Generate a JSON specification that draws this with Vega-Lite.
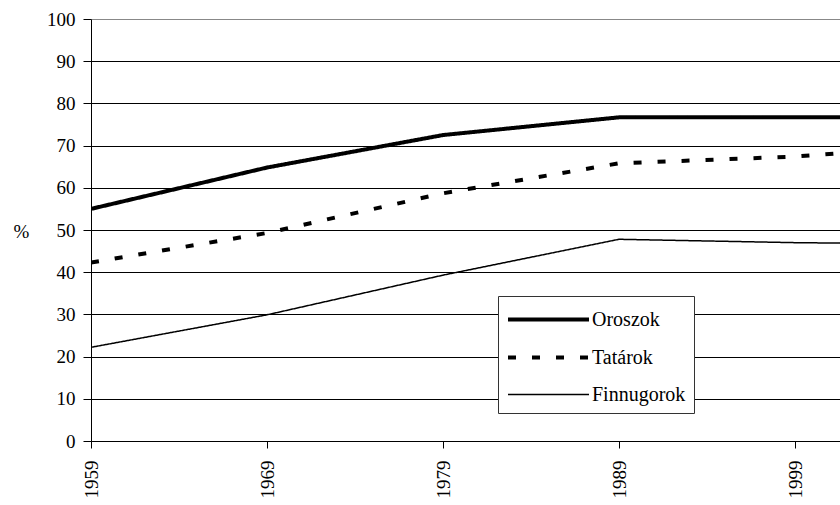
{
  "$schema": "https://vega.github.io/schema/vega-lite/v6.json",
  "width": 749,
  "height": 422,
  "autosize": {"type": "none"},
  "padding": {"left": 91, "top": 19, "right": 0, "bottom": 64},
  "background": "white",
  "config": {
    "view": {"stroke": null},
    "font": "Liberation Serif, Times New Roman, serif",
    "legend": {
      "symbolType": "M-1,0H5",
      "symbolSize": 729,
      "labelOffset": 55,
      "padding": 8,
      "rowPadding": 12,
      "fillColor": "white",
      "strokeColor": "#333",
      "labelFont": "Liberation Serif, Times New Roman, serif",
      "labelFontSize": 20,
      "labelColor": "black",
      "symbolStrokeColor": "black"
    }
  },
  "data": {
    "values": [
      {"series": "Oroszok", "year": 1959, "value": 55.0},
      {"series": "Oroszok", "year": 1969, "value": 64.8},
      {"series": "Oroszok", "year": 1979, "value": 72.5},
      {"series": "Oroszok", "year": 1989, "value": 76.7},
      {"series": "Oroszok", "year": 1999, "value": 76.7},
      {"series": "Oroszok", "year": 2009, "value": 76.7},
      {"series": "Tatárok", "year": 1959, "value": 42.3},
      {"series": "Tatárok", "year": 1969, "value": 49.3},
      {"series": "Tatárok", "year": 1979, "value": 58.7},
      {"series": "Tatárok", "year": 1989, "value": 65.8},
      {"series": "Tatárok", "year": 1999, "value": 67.4},
      {"series": "Tatárok", "year": 2009, "value": 70.5},
      {"series": "Finnugorok", "year": 1959, "value": 22.2},
      {"series": "Finnugorok", "year": 1969, "value": 29.9},
      {"series": "Finnugorok", "year": 1979, "value": 39.3},
      {"series": "Finnugorok", "year": 1989, "value": 47.8},
      {"series": "Finnugorok", "year": 1999, "value": 47.0},
      {"series": "Finnugorok", "year": 2009, "value": 46.6}
    ]
  },
  "mark": {"type": "line", "clip": true, "color": "black"},
  "encoding": {
    "x": {
      "field": "year",
      "type": "quantitative",
      "scale": {"domain": [1959, 2001.5568], "nice": false, "zero": false},
      "axis": {
        "values": [1959, 1969, 1979, 1989, 1999],
        "format": "d",
        "grid": false,
        "title": null,
        "labelAngle": -90,
        "labelAlign": "right",
        "labelBaseline": "middle",
        "labelPadding": 12,
        "tickSize": 7,
        "tickColor": "black",
        "domainColor": "black",
        "labelFontSize": 19,
        "labelColor": "black",
        "labelFont": "Liberation Serif, Times New Roman, serif"
      }
    },
    "y": {
      "field": "value",
      "type": "quantitative",
      "scale": {"domain": [0, 100], "nice": false},
      "axis": {
        "values": [0, 10, 20, 30, 40, 50, 60, 70, 80, 90, 100],
        "grid": true,
        "gridColor": {"condition": {"test": "datum.value === 100", "value": "#888"}, "value": "black"},
        "gridOpacity": 1,
        "tickSize": 8,
        "tickColor": "black",
        "domainColor": "black",
        "labelPadding": 8,
        "labelFontSize": 19,
        "labelColor": "black",
        "labelFont": "Liberation Serif, Times New Roman, serif",
        "title": "%",
        "titleAngle": 0,
        "titleX": -70,
        "titleY": 212,
        "titleAlign": "center",
        "titleBaseline": "middle",
        "titleFontWeight": "normal",
        "titleFontSize": 19,
        "titleFont": "Liberation Serif, Times New Roman, serif",
        "titleColor": "black"
      }
    },
    "strokeWidth": {
      "field": "series",
      "type": "nominal",
      "sort": ["Oroszok", "Tatárok", "Finnugorok"],
      "scale": {"type": "ordinal", "domain": ["Oroszok", "Tatárok", "Finnugorok"], "range": [4, 4, 1.5]},
      "legend": {"title": null, "orient": "none", "legendX": 407, "legendY": 277}
    },
    "strokeDash": {
      "field": "series",
      "type": "nominal",
      "sort": ["Oroszok", "Tatárok", "Finnugorok"],
      "scale": {"type": "ordinal", "domain": ["Oroszok", "Tatárok", "Finnugorok"], "range": [[1, 0], [8, 16], [1, 0]]},
      "legend": {"title": null, "orient": "none", "legendX": 407, "legendY": 277}
    }
  }
}
